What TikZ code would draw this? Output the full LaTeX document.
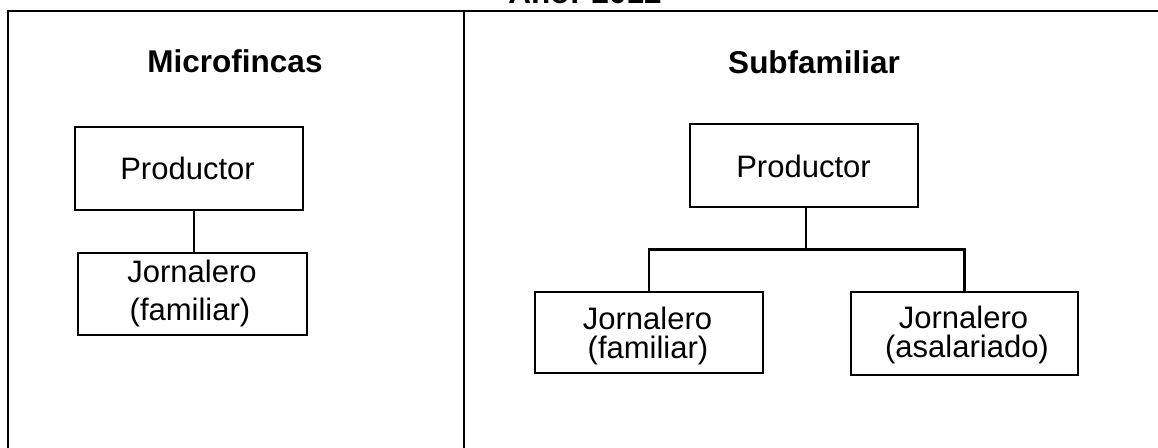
\documentclass[tikz,border=0pt]{standalone}
\usepackage{fontspec}
\setmainfont{Liberation Sans}
\usetikzlibrary{calc}
\begin{document}
\begin{tikzpicture}[x=1pt,y=-1pt,
  txt/.style={font=\fontsize{31}{33}\selectfont, inner sep=0pt, anchor=base},
  ttl/.style={font=\bfseries\fontsize{31.5}{33}\selectfont, inner sep=0pt, anchor=base},
  box/.style={draw, line width=2.6pt, inner sep=0pt},
  conn/.style={line width=2.8pt},
  frame/.style={line width=1.6pt}]
\useasboundingbox (0,0) rectangle (1158,447);
\fill[white] (0,0) rectangle (1158,447);
% header (cut off at the top edge, as in the reference)
\node[ttl] (hdr) at (585,4) {Año: 2012};
% frame
\coordinate (tl) at (8,11);
\coordinate (tr) at (1160,11);
\coordinate (bl) at (8,450);
\coordinate (dt) at (464,11);
\coordinate (db) at (464,450);
\draw[frame] (bl) -- (tl) -- (tr);
\draw[frame] (dt) -- (db);
% titles
\node[ttl] (t1) at (235,72) {Microfincas};
\node[ttl] (t2) at (814,73) {Subfamiliar};
% left column
\node[box, minimum width=228, minimum height=83] (lp) at (189,168.5) {};
\node[txt] (lpt) at (187.5,179.5) {Productor};
\node[box, minimum width=229, minimum height=82] (lj) at (192.5,294) {};
\node[txt] (lj1) at (192,282) {Jornalero};
\node[txt] (lj2) at (190,320) {(familiar)};
\draw[conn] ([xshift=5pt]lp.south) -- ([xshift=5pt]lp.south |- lj.north);
% right column
\node[box, minimum width=228, minimum height=83] (rp) at (804,165.5) {};
\node[txt] (rpt) at (803.5,177) {Productor};
\node[box, minimum width=228, minimum height=81] (rf) at (649,332.5) {};
\node[txt] (rf1) at (647.5,329.5) {Jornalero};
\node[txt] (rf2) at (648,358) {(familiar)};
\node[box, minimum width=227, minimum height=83] (ra) at (964.5,333.5) {};
\node[txt] (ra1) at (963.5,328.5) {Jornalero};
\node[txt] (ra2) at (967,357) {(asalariado)};
\coordinate (bj) at ($(rp.south)+(2,41)$);
\draw[conn] ([xshift=2pt]rp.south) -- (bj);
\draw[conn] (rf.north) |- (bj) -| (ra.north);
\end{tikzpicture}
\end{document}
